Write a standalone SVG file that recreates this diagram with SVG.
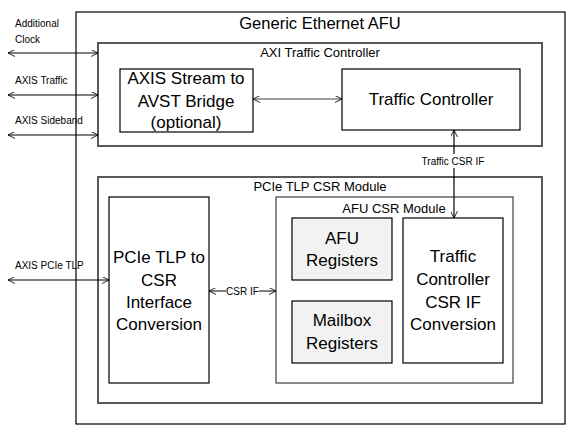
<svg xmlns="http://www.w3.org/2000/svg" width="573" height="439" viewBox="0 0 573 439">
<style>
text{font-family:"Liberation Sans",Arial,sans-serif;fill:#000}
.big{font-size:17px;text-anchor:middle}
.hdr{font-size:13px;text-anchor:middle}
.sm{font-size:10px}
.box{fill:#fff;stroke:#000;stroke-width:1.2}
.gbox{fill:#fff;stroke:#595959;stroke-width:2}
.reg{fill:#f2f2f2;stroke:#000;stroke-width:1.2}
.con{stroke:#000;stroke-width:1.2;fill:none;marker-start:url(#a);marker-end:url(#a)}
</style>
<defs>
<marker id="a" viewBox="0 0 10 10" refX="10" refY="5" markerWidth="7" markerHeight="7" markerUnits="userSpaceOnUse" orient="auto-start-reverse">
<path d="M0,0 L10,5 L0,10" fill="none" stroke="#000" stroke-width="1.2"/>
</marker>
</defs>
<g id="afu">
<rect class="box" x="76" y="12" width="489" height="412"/>
<text x="320" y="29" style="font-size:16.5px;text-anchor:middle">Generic Ethernet AFU</text>
</g>
<g id="axi-tc">
<rect class="gbox" x="98" y="43" width="444" height="103"/>
<text class="hdr" x="320" y="57">AXI Traffic Controller</text>
</g>
<g id="bridge">
<rect class="box" x="120" y="69" width="133" height="63"/>
<text class="big" x="186" y="84">AXIS Stream to</text>
<text class="big" x="186" y="107">AVST Bridge</text>
<text class="big" x="186" y="128">(optional)</text>
</g>
<g id="traffic-controller">
<rect class="box" x="342" y="69" width="178" height="61"/>
<text class="big" x="431" y="105">Traffic Controller</text>
</g>
<g id="pcie-csr">
<rect class="gbox" x="98" y="177" width="444" height="226"/>
<text class="hdr" x="320" y="191">PCIe TLP CSR Module</text>
</g>
<g id="tlp-conv">
<rect class="box" x="109" y="197" width="100" height="186"/>
<text class="big" x="159" y="263">PCIe TLP to</text>
<text class="big" x="159" y="286">CSR</text>
<text class="big" x="159" y="308">Interface</text>
<text class="big" x="159" y="330">Conversion</text>
</g>
<g id="afu-csr">
<rect class="box" x="276" y="197" width="237" height="186" style="stroke:#404040"/>
<text class="hdr" x="394" y="213">AFU CSR Module</text>
</g>
<g id="afu-regs">
<rect class="reg" x="292" y="218" width="100" height="62"/>
<text class="big" x="342" y="244">AFU</text>
<text class="big" x="342" y="266">Registers</text>
</g>
<g id="mailbox">
<rect class="reg" x="292" y="301" width="100" height="62"/>
<text class="big" x="342" y="326">Mailbox</text>
<text class="big" x="342" y="349">Registers</text>
</g>
<g id="tc-csr-conv">
<rect class="box" x="403" y="218" width="100" height="145"/>
<text class="big" x="453" y="262">Traffic</text>
<text class="big" x="453" y="285">Controller</text>
<text class="big" x="453" y="308">CSR IF</text>
<text class="big" x="453" y="330">Conversion</text>
</g>
<g id="connectors">
<line class="con" x1="8" y1="53" x2="98" y2="53"/>
<line class="con" x1="8" y1="95" x2="98" y2="95"/>
<line class="con" x1="8" y1="135" x2="98" y2="135"/>
<line class="con" x1="8" y1="280" x2="109" y2="280"/>
<line class="con" x1="253" y1="99" x2="342" y2="99" style="stroke:#404040"/>
<line class="con" x1="454" y1="130" x2="454" y2="218"/>
<rect x="418" y="154" width="72" height="14" fill="#fff"/>
<text class="sm" x="453" y="165" text-anchor="middle">Traffic CSR IF</text>
<line class="con" x1="209" y1="291" x2="276" y2="291"/>
<rect x="226" y="285" width="33" height="12" fill="#fff"/>
<text class="sm" x="242.5" y="295" text-anchor="middle">CSR IF</text>
<text class="sm" x="15" y="27">Additional</text>
<text class="sm" x="15" y="43">Clock</text>
<text class="sm" x="15" y="84">AXIS Traffic</text>
<text class="sm" x="15" y="124">AXIS Sideband</text>
<text class="sm" x="15" y="269">AXIS PCIe TLP</text>
</g>
</svg>
